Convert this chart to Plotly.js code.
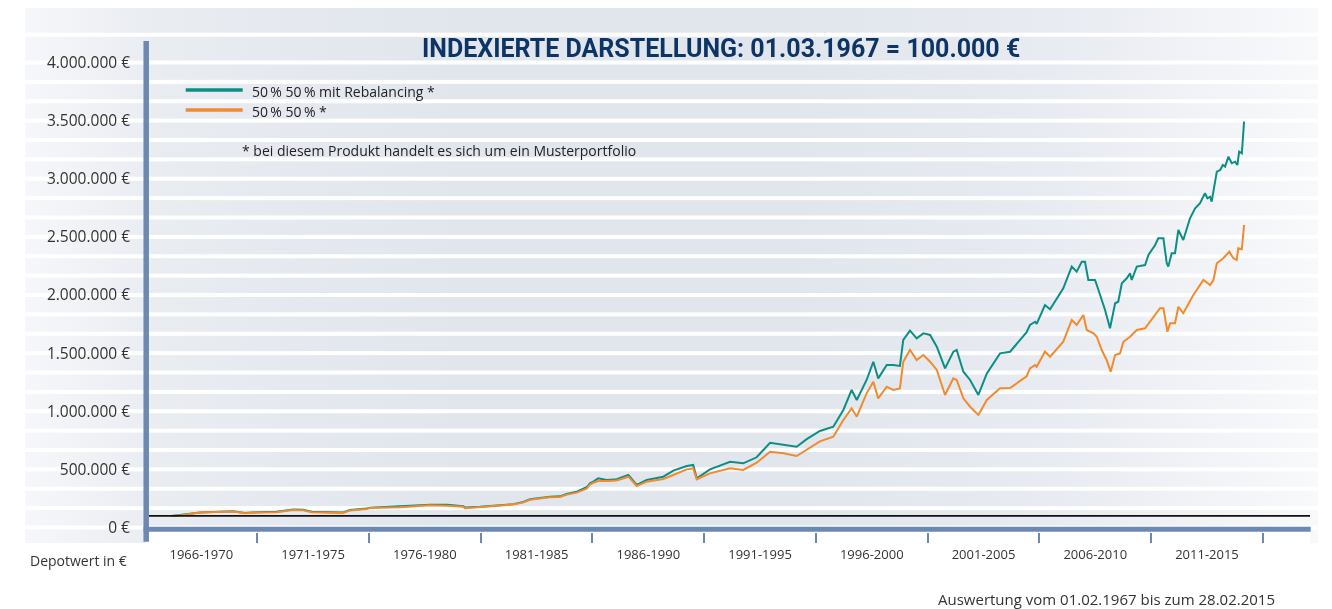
<!DOCTYPE html>
<html>
<head>
<meta charset="utf-8">
<script src="https://cdn.plot.ly/plotly-3.0.1.min.js"></script>
<style>
html,body{margin:0;padding:0;background:#ffffff;}
#wrap{position:relative;width:1332px;height:609px;overflow:hidden;}
#bg{position:absolute;left:0;top:0;}
#chart{position:absolute;left:0;top:0;width:1332px;height:609px;}
</style>
</head>
<body>
<div id="wrap"><canvas id="bg" width="1332" height="609"></canvas><div id="chart"></div></div>
<script>
// ---------- DATA ----------
const periodLabels = ['1966-1970','1971-1975','1976-1980','1981-1985','1986-1990','1991-1995','1996-2000','2001-2005','2006-2010','2011-2015'];
const periodBounds = [1971,1976,1981,1986,1991,1996,2001,2006,2011,2016];

const yTickVals = [0,500000,1000000,1500000,2000000,2500000,3000000,3500000,4000000];
const yTickText = ['0 €','500.000 €','1.000.000 €','1.500.000 €','2.000.000 €','2.500.000 €','3.000.000 €','3.500.000 €','4.000.000 €'];

const seriesNames = ['50\u2009% 50\u2009% mit Rebalancing *', '50\u2009% 50\u2009% *'];
const baseValue = 100000;

const rebalYears = [1967.17,1967.69,1968.44,1969.03,1969.93,1970.45,1970.98,1971.87,1972.61,1973.06,
1973.44,1974.85,1975.15,1975.90,1976.05,1977.39,1978.73,1979.50,1980.22,1980.30,
1980.97,1981.72,1982.46,1982.91,1983.21,1984.10,1984.55,1984.85,1985.30,1985.74,
1985.89,1986.04,1986.26,1986.64,1987.09,1987.61,1987.98,1988.43,1989.17,1989.62,
1990.22,1990.51,1990.67,1991.26,1992.16,1992.75,1993.35,1993.95,1994.54,1995.14,
1995.59,1996.18,1996.78,1997.23,1997.60,1997.83,1998.27,1998.57,1998.79,1999.17,
1999.46,1999.76,1999.91,2000.21,2000.51,2000.81,2001.11,2001.41,2001.78,2002.15,
2002.30,2002.60,2002.90,2003.27,2003.65,2004.24,2004.69,2005.43,2005.58,2005.81,
2005.88,2006.25,2006.48,2007.07,2007.45,2007.67,2007.90,2008.04,2008.19,2008.49,
2008.57,2008.79,2008.94,2009.16,2009.39,2009.53,2009.69,2009.91,2010.06,2010.13,
2010.36,2010.73,2010.88,2011.18,2011.32,2011.55,2011.70,2011.77,2011.92,2012.07,
2012.22,2012.44,2012.74,2012.97,2013.19,2013.41,2013.52,2013.64,2013.71,2013.94,
2014.09,2014.21,2014.31,2014.46,2014.61,2014.76,2014.86,2014.94,2015.06,2015.16];

const rebalValues = [100000,110000,130000,133000,139000,124000,131000,135000,155000,152000,
135000,130000,150000,163000,171000,183000,196000,195000,183000,173000,
178000,190000,201000,220000,243000,265000,268000,288000,308000,346000,
380000,395000,423000,409000,415000,452000,366000,409000,437000,489000,
529000,538000,423000,500000,566000,552000,604000,729000,710000,695000,
760000,830000,867000,1011000,1183000,1097000,1269000,1426000,1283000,1398000,
1398000,1390000,1613000,1693000,1627000,1670000,1656000,1555000,1369000,1512000,
1527000,1340000,1269000,1140000,1326000,1498000,1512000,1680000,1742000,1770000,
1751000,1914000,1877000,2058000,2244000,2201000,2287000,2287000,2129000,2129000,
2086000,1957000,1871000,1714000,1929000,1942000,2101000,2144000,2187000,2129000,
2244000,2258000,2344000,2430000,2488000,2488000,2273000,2244000,2359000,2359000,
2559000,2473000,2660000,2746000,2789000,2875000,2832000,2846000,2803000,3061000,
3075000,3118000,3104000,3190000,3133000,3147000,3118000,3233000,3219000,3491000];

const plainYears = [1967.17,1967.69,1968.44,1969.03,1969.93,1970.45,1970.98,1971.87,1972.61,1973.06,
1973.44,1974.85,1975.15,1975.90,1976.05,1977.39,1978.73,1979.50,1980.22,1980.30,
1980.97,1981.72,1982.46,1982.91,1983.21,1984.10,1984.55,1984.85,1985.30,1985.74,
1985.89,1986.04,1986.26,1986.64,1987.09,1987.61,1987.98,1988.43,1989.17,1989.62,
1990.22,1990.51,1990.67,1991.26,1992.16,1992.75,1993.35,1993.95,1994.54,1995.14,
1995.59,1996.18,1996.78,1997.23,1997.60,1997.83,1998.27,1998.57,1998.79,1999.17,
1999.46,1999.76,1999.91,2000.21,2000.51,2000.81,2001.11,2001.41,2001.78,2002.15,
2002.30,2002.60,2002.90,2003.27,2003.65,2004.24,2004.69,2005.43,2005.58,2005.81,
2005.88,2006.25,2006.48,2007.07,2007.45,2007.67,2007.97,2008.12,2008.42,2008.57,
2008.79,2009.01,2009.19,2009.39,2009.61,2009.76,2010.06,2010.36,2010.73,2011.18,
2011.40,2011.55,2011.73,2011.85,2012.07,2012.22,2012.44,2012.89,2013.34,2013.64,
2013.79,2013.94,2014.23,2014.50,2014.68,2014.83,2014.90,2015.06,2015.16];

const plainValues = [100000,108000,128000,131000,137000,122000,129000,131000,150000,148000,
131000,125000,147000,160000,168000,174000,191000,188000,178000,165000,
176000,188000,198000,216000,238000,260000,263000,283000,300000,335000,
370000,385000,400000,400000,405000,437000,357000,394000,417000,452000,
500000,509000,415000,466000,509000,495000,557000,652000,638000,615000,
672000,741000,781000,925000,1025000,953000,1154000,1254000,1111000,1211000,
1183000,1197000,1426000,1527000,1441000,1484000,1426000,1355000,1140000,1283000,
1269000,1111000,1039000,968000,1097000,1197000,1200000,1300000,1369000,1398000,
1383000,1512000,1469000,1598000,1785000,1742000,1828000,1699000,1670000,1641000,
1527000,1441000,1340000,1484000,1498000,1598000,1641000,1699000,1714000,1828000,
1886000,1886000,1684000,1757000,1757000,1899000,1843000,2000000,2129000,2086000,
2129000,2273000,2316000,2373000,2316000,2301000,2402000,2393000,2602000];

// ---------- GEOMETRY / STYLE ----------
const W = 1332, H = 609;
const M = {l:145, r:22, t:41, b:77};
const plotW = W - M.l - M.r, plotH = H - M.t - M.b;
const xRange = [1965.98, 2018.11];
const yRange = [-38700, 4184900];
const stripeStep = 1000000/6;

const TEAL = '#0b8f84', ORANGE = '#f28a2e', BAR = '#6d89b1', NAVY = '#0c3465', TXT = '#333333';
const FONT = 'Open Sans, Noto Sans, sans-serif';

function px(x){ return (x - M.l)/plotW; }
function py(y){ return (H - M.b - y)/plotH; }
function yPix(v){ return M.t + (yRange[1]-v)/(yRange[1]-yRange[0])*plotH; }

// ---------- BACKGROUND (striped gradient) ----------
(function(){
  const c = document.getElementById('bg').getContext('2d');
  const x0 = 25, x1 = 1318;
  const g = c.createLinearGradient(x0,0,x1,0);
  g.addColorStop(0.00,'#f6f7fa');
  g.addColorStop(0.10,'#e9ecf1');
  g.addColorStop(0.33,'#e1e6ed');
  g.addColorStop(0.60,'#e1e6ed');
  g.addColorStop(0.80,'#e8ebf1');
  g.addColorStop(1.00,'#f8f9fb');
  c.fillStyle = g;
  c.fillRect(x0, 8, x1-x0, 535);
  c.fillStyle = '#ffffff';
  c.fillRect(x0, 32.7, x1-x0, 4);
  for (let k=0; k<=24; k++){
    c.fillRect(x0, yPix(k*stripeStep)-2, x1-x0, 4);
  }
  c.fillRect(M.l+1, 531, W-M.r-M.l-1, 14);
})();

// ---------- CHART ----------
const periodMids = periodBounds.map(b => b - 2.5);

const traces = [
  {x: rebalYears, y: rebalValues, type:'scatter', mode:'lines', name: seriesNames[0],
   line:{color:TEAL, width:2}},
  {x: plainYears, y: plainValues, type:'scatter', mode:'lines', name: seriesNames[1],
   line:{color:ORANGE, width:2}}
];

const layout = {
  width:W, height:H,
  margin:{l:M.l, r:M.r, t:M.t, b:M.b, pad:0},
  paper_bgcolor:'rgba(0,0,0,0)', plot_bgcolor:'rgba(0,0,0,0)',
  showlegend:false,
  font:{family:FONT, color:TXT},
  xaxis:{range:xRange, showgrid:false, zeroline:false, showline:false, fixedrange:true,
    tickmode:'array', tickvals:periodMids, ticktext:periodLabels, ticks:'',
    tickfont:{family:FONT, size:13, color:TXT}, ticklabelstandoff:13,
    minor:{tickmode:'array', tickvals:periodBounds, ticks:'outside', ticklen:10, tickwidth:2, tickcolor:BAR, showgrid:false}
  },
  yaxis:{range:yRange, showgrid:false, zeroline:false, showline:false, fixedrange:true,
    tickmode:'array', tickvals:yTickVals, ticktext:yTickText, ticks:'',
    tickfont:{family:FONT, size:15.5, color:TXT}, ticklabelstandoff:14
  },
  shapes:[
    {type:'line', xref:'paper', yref:'y', x0:px(149), x1:1, y0:baseValue, y1:baseValue, line:{color:'#111111', width:1.6}},
    {type:'line', xref:'paper', yref:'paper', x0:px(146.2), x1:px(146.2), y0:py(41), y1:py(541.7), line:{color:BAR, width:5.5}},
    {type:'line', xref:'paper', yref:'paper', x0:px(143.5), x1:px(1310.7), y0:py(529.2), y1:py(529.2), line:{color:BAR, width:5}},
    {type:'line', xref:'paper', yref:'paper', x0:px(185.7), x1:px(242.7), y0:py(90), y1:py(90), line:{color:TEAL, width:3.5}},
    {type:'line', xref:'paper', yref:'paper', x0:px(185.7), x1:px(242.7), y0:py(110), y1:py(110), line:{color:ORANGE, width:3.5}}
  ],
  annotations:[
    {text:'INDEXIERTE DARSTELLUNG: 01.03.1967 = 100.000 €', xref:'paper', yref:'paper', x:px(721), y:py(48),
     xanchor:'center', yanchor:'middle', showarrow:false, font:{family:'Roboto, sans-serif', size:25, color:NAVY, weight:700}},
    {text:seriesNames[0], xref:'paper', yref:'paper', x:px(250), y:py(91.5), xanchor:'left', yanchor:'middle', showarrow:false,
     font:{family:FONT, size:14, color:'#222222'}},
    {text:seriesNames[1], xref:'paper', yref:'paper', x:px(250), y:py(111.5), xanchor:'left', yanchor:'middle', showarrow:false,
     font:{family:FONT, size:14, color:'#222222'}},
    {text:'* bei diesem Produkt handelt es sich um ein Musterportfolio', xref:'paper', yref:'paper', x:px(239.5), y:py(150),
     xanchor:'left', yanchor:'middle', showarrow:false, font:{family:FONT, size:14, color:'#222222'}},
    {text:'Depotwert in €', xref:'paper', yref:'paper', x:px(129), y:py(560), xanchor:'right', yanchor:'middle', showarrow:false,
     font:{family:FONT, size:14, color:TXT}},
    {text:'Auswertung vom 01.02.1967 bis zum 28.02.2015', xref:'paper', yref:'paper', x:px(1277), y:py(599), xanchor:'right', yanchor:'middle', showarrow:false,
     font:{family:FONT, size:15, color:TXT}}
  ]
};

Plotly.newPlot('chart', traces, layout, {displayModeBar:false, staticPlot:true});
</script>
</body>
</html>
